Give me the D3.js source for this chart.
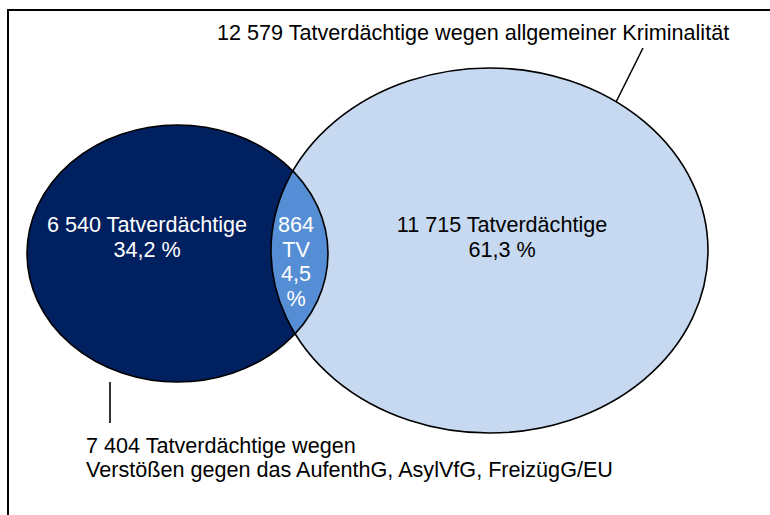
<!DOCTYPE html>
<html><head><meta charset="utf-8">
<script src="https://cdn.jsdelivr.net/npm/d3@7"></script>
<style>
html,body{margin:0;padding:0;background:#fff;}
svg text{font-family:"Liberation Sans",Arial,sans-serif;}
</style></head>
<body>
<script>
// ---- data ----
const setNames = ["Verstöße gegen das AufenthG, AsylVfG, FreizügG/EU", "allgemeine Kriminalität"];
const setTotals = [7404, 12579];
const regionNames = ["nur Verstöße AufenthG/AsylVfG/FreizügG", "beides", "nur allgemeine Kriminalität"];
const regionCounts = [6540, 864, 11715];
const regionShares = [34.2, 4.5, 61.3];
const setColors = ["#002060", "#c6d9f1"];
const overlapColor = "#558ed5";

const W = 770, H = 515;
const loc = d3.formatLocale({decimal: ",", thousands: "\u00a0", grouping: [3], currency: ["", "€"]});
const fInt = loc.format(",d");
const fPct = loc.format(".1f");

const svg = d3.select("body").append("svg").attr("width", W).attr("height", H);

// frame
svg.append("rect").attr("x", 8).attr("y", 10).attr("width", 900).attr("height", 700)
  .attr("fill", "none").attr("stroke", "#000").attr("stroke-width", 2);

// layout of ellipses
const ell = [
  {cx: 177.5, cy: 253.5, rx: 150.5, ry: 128.5},
  {cx: 489.5, cy: 250.5, rx: 218.5, ry: 182.5}
];

const defs = svg.append("defs");
defs.append("clipPath").attr("id", "clipA").append("ellipse")
  .attr("cx", ell[0].cx).attr("cy", ell[0].cy).attr("rx", ell[0].rx).attr("ry", ell[0].ry);

svg.selectAll("ellipse.fill").data(setTotals).join("ellipse").attr("class", "fill")
  .attr("cx", (d, i) => ell[i].cx).attr("cy", (d, i) => ell[i].cy)
  .attr("rx", (d, i) => ell[i].rx).attr("ry", (d, i) => ell[i].ry)
  .attr("fill", (d, i) => setColors[i]);

svg.append("ellipse").attr("clip-path", "url(#clipA)")
  .attr("cx", ell[1].cx).attr("cy", ell[1].cy).attr("rx", ell[1].rx).attr("ry", ell[1].ry)
  .attr("fill", overlapColor);

svg.selectAll("ellipse.outline").data(setTotals).join("ellipse").attr("class", "outline")
  .attr("cx", (d, i) => ell[i].cx).attr("cy", (d, i) => ell[i].cy)
  .attr("rx", (d, i) => ell[i].rx).attr("ry", (d, i) => ell[i].ry)
  .attr("fill", "none").attr("stroke", "#000").attr("stroke-width", 1.6);

// region labels
const fs = 21.6;
const regionLabels = [
  {x: 147, y: 232, color: "#fff", lines: [fInt(regionCounts[0]) + " Tatverdächtige", fPct(regionShares[0]) + " %"]},
  {x: 296, y: 232, color: "#fff", lines: [fInt(regionCounts[1]), "TV", fPct(regionShares[1]), "%"]},
  {x: 502, y: 232, color: "#000", lines: [fInt(regionCounts[2]) + " Tatverdächtige", fPct(regionShares[2]) + " %"]}
];
regionLabels.forEach((r, i) => {
  const t = svg.append("text").attr("text-anchor", "middle").attr("font-size", fs).attr("fill", r.color);
  r.lines.forEach((l, j) => t.append("tspan").attr("x", r.x).attr("y", r.y + j * (i === 1 ? 24.5 : 25)).text(l));
});

// set labels with leader lines
svg.append("line").attr("x1", 643).attr("y1", 48).attr("x2", 616).attr("y2", 102)
  .attr("stroke", "#000").attr("stroke-width", 1.6);
svg.append("line").attr("x1", 110).attr("y1", 382).attr("x2", 110).attr("y2", 423)
  .attr("stroke", "#000").attr("stroke-width", 1.6);

svg.append("text").attr("x", 217).attr("y", 40).attr("font-size", fs).attr("fill", "#000")
  .text(fInt(setTotals[1]) + " Tatverdächtige wegen allgemeiner Kriminalität");

const bt = svg.append("text").attr("font-size", fs).attr("fill", "#000");
bt.append("tspan").attr("x", 86).attr("y", 453).text(fInt(setTotals[0]) + " Tatverdächtige wegen");
bt.append("tspan").attr("x", 86).attr("y", 477).text("Verstößen gegen das AufenthG, AsylVfG, FreizügG/EU");
</script>
</body></html>
